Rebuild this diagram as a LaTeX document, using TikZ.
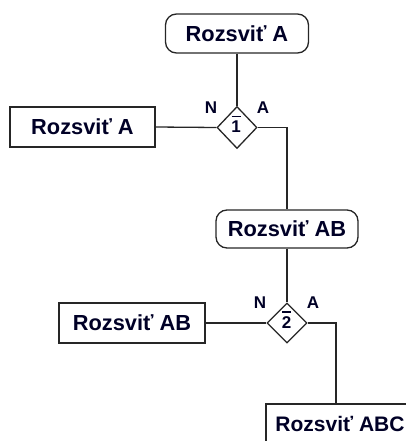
\documentclass[tikz,border=0pt]{standalone}
\usepackage{fontspec}
\setmainfont{Liberation Sans}
\usetikzlibrary{shapes.geometric}
\tikzset{
  line/.style={line width=1.3pt, draw=black!85},
  term/.style={line, rounded corners=11pt, inner sep=0pt, minimum width=143pt, minimum height=39pt, font=\bfseries\fontsize{21.8}{24}\selectfont, text=black!85!blue},
  procbox/.style={line, inner sep=0pt, minimum width=145pt, minimum height=40pt, font=\bfseries\fontsize{21.8}{24}\selectfont, text=black!85!blue},
  decision/.style={line, diamond, inner sep=0pt, minimum width=40pt, minimum height=42pt},
  declabel/.style={font=\bfseries\fontsize{17}{19}\selectfont, inner sep=0pt, text=black!85!blue},
  overbar/.style={line width=1.4pt, draw=black!85!blue},
  branch/.style={font=\bfseries\fontsize{17}{19}\selectfont, inner sep=0pt, text=black!85!blue}
}
\begin{document}
\begin{tikzpicture}[x=1pt,y=-1pt]
\useasboundingbox (0,0) rectangle (406,441);
\clip (0,0) rectangle (406,441);
\node[term] (t1) at (237,33.5) {Rozsviť A};
\node[procbox] (b1) at (82.5,127) {Rozsviť A};
\node[decision] (d1) at (237,127.5) {};
\node[declabel] (n1) at (236,127) {1};
\draw[overbar] (231.5,116.5) -- (240.5,116.5);
\node[branch] (l1n) at (211,108) {N};
\node[branch] (l1a) at (263,108) {A};
\node[term, minimum width=142pt, minimum height=38pt] (t2) at (287,229) {Rozsviť AB};
\node[procbox, minimum width=146pt] (b2) at (132,323) {Rozsviť AB};
\node[decision, minimum height=40pt] (d2) at (287,323) {};
\node[declabel] (n2) at (286.5,322.5) {2};
\draw[overbar] (282,312) -- (291,312);
\node[branch] (l2n) at (260,303) {N};
\node[branch] (l2a) at (313,303) {A};
\node[procbox, minimum width=148pt, font=\bfseries\fontsize{21}{24}\selectfont] (b3) at (340,424) {Rozsviť ABC};
\coordinate (b3in) at (336,404);
\draw[line] (t1.south) -- (d1.north);
\draw[line] (b1.east) -- (d1.west);
\draw[line] (d1.east) -| (t2.north);
\draw[line] (t2.south) -- (d2.north);
\draw[line] (b2.east) -- (d2.west);
\draw[line] (d2.east) -| (b3in);
\end{tikzpicture}
\end{document}
